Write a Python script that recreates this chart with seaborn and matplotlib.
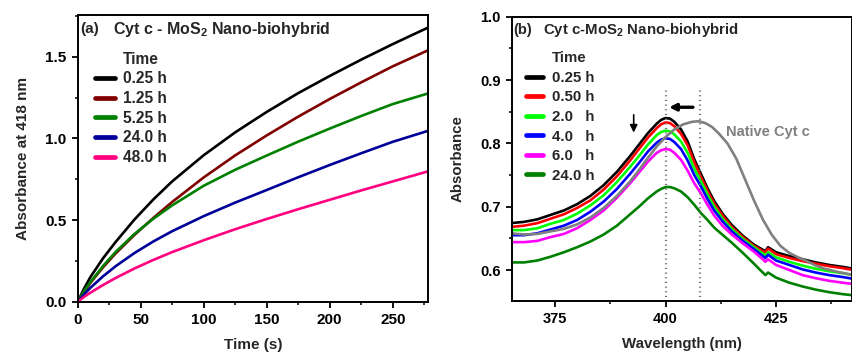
import numpy as np
import pandas as pd
import matplotlib
matplotlib.use("Agg")
import matplotlib.pyplot as plt
import seaborn as sns
from matplotlib.lines import Line2D
from matplotlib.ticker import MultipleLocator, FormatStrFormatter

# ---------------- data: panel (a) kinetics ----------------
time_s = [0, 5, 10, 20, 30, 45, 60, 75, 100, 125, 150, 175, 200, 225, 250, 278]
abs_025h = [0, 0.08, 0.15, 0.265, 0.365, 0.503, 0.626, 0.737, 0.897, 1.037, 1.162, 1.277, 1.382, 1.482, 1.577, 1.678]
abs_125h = [0, 0.06, 0.115, 0.21, 0.295, 0.409, 0.513, 0.611, 0.761, 0.896, 1.018, 1.133, 1.241, 1.343, 1.441, 1.539]
abs_525h = [0, 0.065, 0.12, 0.218, 0.304, 0.415, 0.508, 0.59, 0.71, 0.808, 0.895, 0.98, 1.06, 1.137, 1.21, 1.275]
abs_24h = [0, 0.045, 0.085, 0.155, 0.217, 0.298, 0.369, 0.432, 0.524, 0.607, 0.684, 0.762, 0.837, 0.909, 0.979, 1.046]
abs_48h = [0, 0.03, 0.055, 0.102, 0.145, 0.2035, 0.256, 0.304, 0.3765, 0.444, 0.5065, 0.5665, 0.624, 0.6815, 0.7365, 0.798]
labels_a = ["0.25 h", "1.25 h", "5.25 h", "24.0 h", "48.0 h"]

# ---------------- data: panel (b) spectra ----------------
wl = [365, 368, 371, 374, 377, 380, 383, 386, 389, 392, 394, 396, 398, 399, 400, 401, 402,
      403.5, 405, 406.5, 408, 409.5, 411, 413, 415, 417.5, 420, 422, 422.6, 423.2, 425, 428,
      431, 434, 437, 440, 442.5]
sp_025h = [0.674, 0.676, 0.680, 0.687, 0.694, 0.704, 0.717, 0.734, 0.755, 0.780, 0.798, 0.816,
           0.831, 0.837, 0.840, 0.839, 0.834, 0.822, 0.803, 0.775, 0.752, 0.729, 0.709, 0.688,
           0.671, 0.654, 0.640, 0.632, 0.630, 0.636, 0.628, 0.622, 0.617, 0.612, 0.608, 0.605, 0.602]
sp_050h = [0.668, 0.670, 0.674, 0.681, 0.688, 0.698, 0.710, 0.727, 0.748, 0.773, 0.791, 0.809,
           0.824, 0.830, 0.833, 0.832, 0.827, 0.815, 0.797, 0.770, 0.747, 0.725, 0.705, 0.685,
           0.668, 0.652, 0.638, 0.630, 0.628, 0.634, 0.625, 0.619, 0.614, 0.610, 0.606, 0.603, 0.600]
sp_2h = [0.663, 0.663, 0.666, 0.673, 0.679, 0.689, 0.702, 0.718, 0.739, 0.763, 0.780, 0.798,
         0.813, 0.818, 0.820, 0.819, 0.814, 0.803, 0.785, 0.760, 0.740, 0.719, 0.700, 0.680,
         0.665, 0.649, 0.636, 0.626, 0.623, 0.628, 0.620, 0.613, 0.607, 0.602, 0.598, 0.595, 0.592]
sp_4h = [0.655, 0.655, 0.658, 0.664, 0.670, 0.679, 0.692, 0.708, 0.728, 0.752, 0.769, 0.787,
         0.801, 0.806, 0.808, 0.807, 0.802, 0.791, 0.773, 0.750, 0.732, 0.712, 0.694, 0.676,
         0.661, 0.646, 0.633, 0.622, 0.619, 0.624, 0.615, 0.608, 0.601, 0.596, 0.592, 0.589, 0.586]
sp_6h = [0.644, 0.644, 0.646, 0.652, 0.657, 0.666, 0.679, 0.694, 0.714, 0.737, 0.754, 0.771,
         0.785, 0.789, 0.791, 0.790, 0.785, 0.774, 0.757, 0.737, 0.721, 0.703, 0.686, 0.669,
         0.656, 0.642, 0.629, 0.617, 0.613, 0.617, 0.608, 0.600, 0.592, 0.587, 0.583, 0.580, 0.578]
sp_24h = [0.612, 0.612, 0.615, 0.621, 0.628, 0.636, 0.645, 0.656, 0.670, 0.688, 0.700, 0.713,
          0.724, 0.728, 0.731, 0.731, 0.729, 0.724, 0.715, 0.703, 0.690, 0.679, 0.667, 0.655,
          0.643, 0.627, 0.610, 0.596, 0.592, 0.596, 0.588, 0.580, 0.574, 0.569, 0.565, 0.562, 0.560]
labels_b = ["0.25 h", "0.50 h", "2.0   h", "4.0   h", "6.0   h", "24.0 h"]

wl_native = [365, 368, 371, 374, 377, 380, 383, 386, 389, 392, 394, 396, 398, 400, 402, 404,
             406, 407.5, 409, 410.5, 412, 414, 416, 418, 420, 422, 424, 426, 428, 430, 432,
             434, 436, 439, 442.5]
sp_native = [0.658, 0.656, 0.657, 0.661, 0.665, 0.672, 0.683, 0.698, 0.717, 0.740, 0.758, 0.777,
             0.795, 0.810, 0.822, 0.830, 0.834, 0.835, 0.832, 0.826, 0.816, 0.800, 0.776, 0.743,
             0.710, 0.680, 0.656, 0.638, 0.627, 0.620, 0.614, 0.607, 0.602, 0.597, 0.592]

colors_a = ["#000000", "#800000", "#008000", "#000099", "#FF0080"]
colors_b = ["#000000", "#FF0000", "#00FF00", "#0000FF", "#FF00FF", "#008000"]
native_color = "#808080"

# ---------------- style ----------------
sns.set_style("ticks")
plt.rcParams.update({
    "font.family": ["Liberation Sans", "DejaVu Sans"],
    "font.weight": "bold",
    "axes.labelweight": "bold",
    "mathtext.fontset": "custom",
    "mathtext.rm": "Liberation Sans:bold",
    "mathtext.bf": "Liberation Sans:bold",
    "axes.linewidth": 1.4,
    "axes.edgecolor": "black",
    "xtick.color": "black",
    "ytick.color": "black",
    "xtick.major.width": 1.3,
    "ytick.major.width": 1.3,
    "xtick.minor.width": 1.1,
    "ytick.minor.width": 1.1,
    "xtick.major.size": 4.5,
    "ytick.major.size": 4.5,
    "xtick.minor.size": 2.5,
    "ytick.minor.size": 2.5,
    "xtick.direction": "out",
    "ytick.direction": "out",
})

fig = plt.figure(figsize=(8.53, 3.55), dpi=100)
axL = fig.add_axes([0.0911, 0.150, 0.4107, 0.8077])
axR = fig.add_axes([0.5999, 0.152, 0.3995, 0.801])

# ---------------- panel (a) ----------------
dfA = pd.DataFrame({
    "t": np.tile(time_s, 5),
    "A": np.concatenate([abs_025h, abs_125h, abs_525h, abs_24h, abs_48h]),
    "Time": np.repeat(labels_a, len(time_s)),
})
sns.lineplot(data=dfA, x="t", y="A", hue="Time", hue_order=labels_a,
             palette=dict(zip(labels_a, colors_a)),
             estimator=None, ax=axL, legend=False, lw=1.9)
axL.set_xlim(0, 278)
axL.set_ylim(0, 1.755)
axL.xaxis.set_major_locator(MultipleLocator(50))
axL.xaxis.set_minor_locator(MultipleLocator(25))
axL.yaxis.set_major_locator(MultipleLocator(0.5))
axL.yaxis.set_minor_locator(MultipleLocator(0.25))
axL.yaxis.set_major_formatter(FormatStrFormatter("%.1f"))
axL.set_xlabel("Time (s)", fontsize=11, labelpad=8)
axL.set_ylabel("Absorbance at 418 nm", fontsize=11, labelpad=11)
axL.tick_params(labelsize=11)
for lab in axL.get_xticklabels() + axL.get_yticklabels():
    lab.set_fontweight("bold")
axL.text(0.0066, 0.951, "(a)", transform=axL.transAxes, fontsize=11, fontweight="bold", va="center")
axL.text(0.101, 0.951, r"Cyt c - MoS$_\mathbf{2}$ Nano-biohybrid", transform=axL.transAxes,
         fontsize=11.5, fontweight="bold", va="center")

hA = [Line2D([], [], color="none")] + [Line2D([], [], color=c, lw=3.4) for c in colors_a]
axL.legend(hA, ["Time"] + labels_a, loc="upper left", bbox_to_anchor=(0.0494, 0.872),
           frameon=False, borderpad=0, borderaxespad=0, handlelength=1.29,
           handletextpad=0.51, labelspacing=0.30, prop={"size": 11.2, "weight": "bold"})

# ---------------- panel (b) ----------------
dfB = pd.DataFrame({
    "wl": np.concatenate([np.tile(wl, 6), wl_native]),
    "A": np.concatenate([sp_025h, sp_050h, sp_2h, sp_4h, sp_6h, sp_24h, sp_native]),
    "Time": np.concatenate([np.repeat(labels_b, len(wl)), ["Native Cyt c"] * len(wl_native)]),
})
pal_b = dict(zip(labels_b, colors_b))
pal_b["Native Cyt c"] = native_color
order_b = labels_b + ["Native Cyt c"]
sns.lineplot(data=dfB, x="wl", y="A", hue="Time", hue_order=order_b, palette=pal_b,
             estimator=None, ax=axR, legend=False, lw=1.9)
axR.set_xlim(365.2, 442.3)
axR.set_ylim(0.551, 1.0)
axR.xaxis.set_major_locator(MultipleLocator(25))
axR.xaxis.set_minor_locator(MultipleLocator(12.5))
axR.yaxis.set_major_locator(MultipleLocator(0.1))
axR.yaxis.set_minor_locator(MultipleLocator(0.05))
axR.yaxis.set_major_formatter(FormatStrFormatter("%.1f"))
axR.set_xlabel("Wavelength (nm)", fontsize=10.8, labelpad=8)
axR.set_ylabel("Absorbance", fontsize=10.8, labelpad=11)
axR.tick_params(labelsize=10.5)
for lab in axR.get_xticklabels() + axR.get_yticklabels():
    lab.set_fontweight("bold")

for xv in (400, 407.8):
    axR.plot([xv, xv], [0.558, 0.884], color="#707070", lw=1.6, ls=(0, (0.5, 1.6)),
             solid_capstyle="butt", dash_capstyle="butt")

axR.annotate("", xy=(392.8, 0.817), xytext=(392.8, 0.845),
             arrowprops=dict(arrowstyle="-|>", color="black", lw=1.2, mutation_scale=11,
                             shrinkA=0, shrinkB=0))
axR.annotate("", xy=(400.8, 0.857), xytext=(406.2, 0.857),
             arrowprops=dict(arrowstyle="-|>", color="black", lw=2.4, mutation_scale=10,
                             shrinkA=0, shrinkB=0))
axR.text(413.6, 0.818, "Native Cyt c", color=native_color, fontsize=10.5,
         fontweight="bold", va="center", ha="left")

axR.text(0.0047, 0.953, "(b)", transform=axR.transAxes, fontsize=10.5, fontweight="bold", va="center")
axR.text(0.0927, 0.953, r"Cyt c-MoS$_\mathbf{2}$ Nano-biohybrid", transform=axR.transAxes,
         fontsize=10.8, fontweight="bold", va="center")

hB = [Line2D([], [], color="none")] + [Line2D([], [], color=c, lw=3.4) for c in colors_b]
axR.legend(hB, ["Time"] + labels_b, loc="upper left", bbox_to_anchor=(0.042, 0.878),
           frameon=False, borderpad=0, borderaxespad=0, handlelength=1.15,
           handletextpad=0.58, labelspacing=0.37, prop={"size": 10.8, "weight": "bold"})

fig.savefig("out.png", dpi=100)
